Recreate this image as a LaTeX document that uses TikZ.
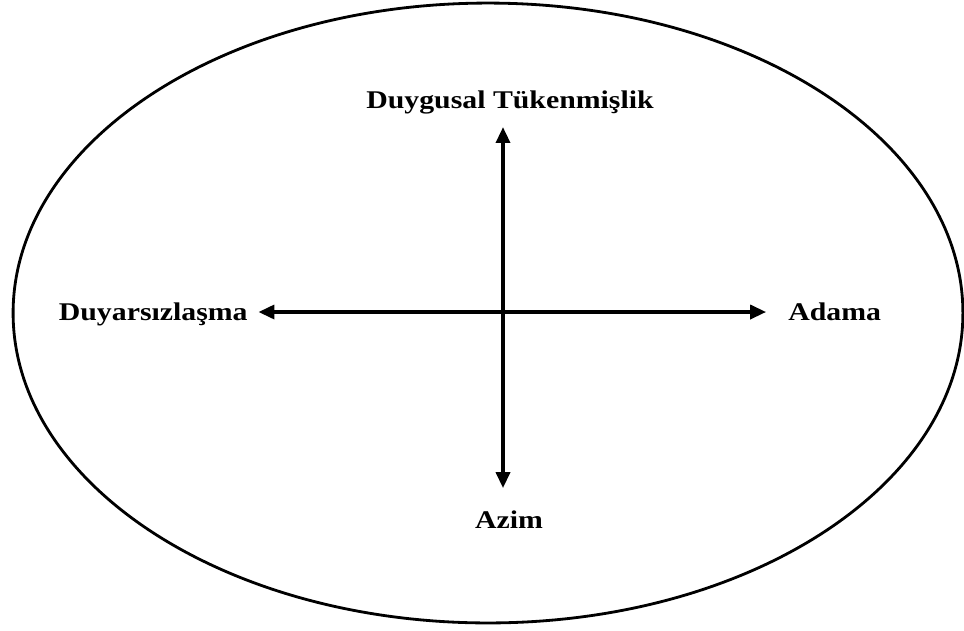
\documentclass[tikz,border=0pt]{standalone}
\usepackage{fontspec}
\setmainfont{Liberation Serif}
\newfontfamily\boyutfont[FakeStretch=1.17]{Liberation Serif}
\usetikzlibrary{arrows.meta,positioning,calc}

\begin{document}
\begin{tikzpicture}[
    x=0.02cm, y=-0.02cm,
    boyut/.style={inner sep=0pt, font=\boyutfont\bfseries\fontsize{14.5}{17}\selectfont},
    arrow/.style={{Triangle[length=9pt,width=8pt]}-{Triangle[length=9pt,width=8pt]}, line width=1.8pt},
]
    \useasboundingbox (0,0) rectangle (964,630);
    \draw[line width=1.6pt] (488,313) ellipse [x radius=9.5cm, y radius=6.2cm];

    \coordinate (merkez) at (503,312);

    \node[boyut, anchor=base] (tukenmislik) at (510,108) {Duygusal Tükenmişlik};
    \node[boyut, anchor=base east] (duyarsiz) at (248,320) {Duyarsızlaşma};
    \node[boyut, anchor=base west] (adama) at (788,320) {Adama};
    \node[boyut, anchor=base] (azim) at (509,528) {Azim};

    \draw[arrow, shorten <=6pt, shorten >=12.5pt] (duyarsiz.east |- merkez) -- (adama.west |- merkez);
    \draw[arrow, shorten <=7.5pt, shorten >=12.5pt] (merkez |- tukenmislik.south) -- (merkez |- azim.north);
\end{tikzpicture}
\end{document}
